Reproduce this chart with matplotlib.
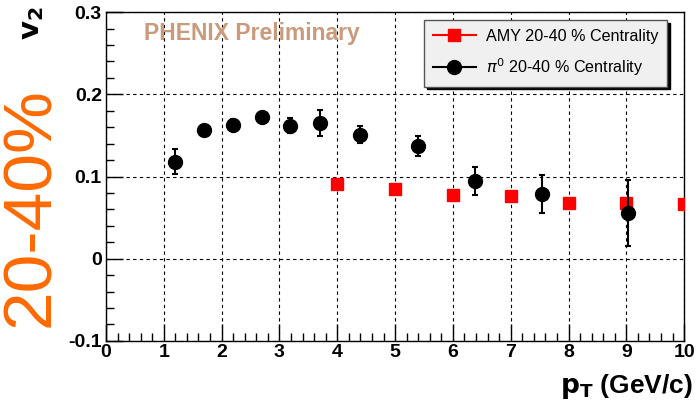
import matplotlib.pyplot as plt
from matplotlib.lines import Line2D
from matplotlib.ticker import MultipleLocator

# pi0 v2, 20-40 % centrality
pi0_pt = [1.19, 1.70, 2.20, 2.70, 3.18, 3.70, 4.39, 5.40, 6.38, 7.54, 9.03]
pi0_v2 = [0.118, 0.157, 0.163, 0.172, 0.162, 0.165, 0.151, 0.137, 0.095, 0.079, 0.056]
pi0_err = [0.015, 0.006, 0.007, 0.007, 0.009, 0.016, 0.010, 0.012, 0.017, 0.023, 0.040]

# AMY calculation
amy_pt = [4, 5, 6, 7, 8, 9, 10]
amy_v2 = [0.091, 0.085, 0.077, 0.076, 0.068, 0.068, 0.066]

plt.rcParams['font.family'] = ['Liberation Sans', 'DejaVu Sans']

fig = plt.figure(figsize=(7, 4.03), dpi=100)
ax = fig.add_axes([0.1514, 0.154, 0.826, 0.816])

ax.plot(amy_pt, amy_v2, 's', color='red', markersize=9, zorder=3)
ax.errorbar(pi0_pt, pi0_v2, yerr=pi0_err, fmt='o', color='black',
            markersize=10, elinewidth=1.5, capsize=2, capthick=1.5, zorder=4)

ax.set_xlim(0, 10)
ax.set_ylim(-0.1, 0.3)
ax.xaxis.set_major_locator(MultipleLocator(1))
ax.xaxis.set_minor_locator(MultipleLocator(0.2))
ax.yaxis.set_minor_locator(MultipleLocator(0.02))
ax.set_yticks([-0.1, 0, 0.1, 0.2, 0.3])
ax.set_yticklabels(['-0.1', '0', '0.1', '0.2', '0.3'])
ax.grid(True, which='major', color='black', linestyle=(0, (3, 3)), linewidth=0.8)
ax.tick_params(which='both', direction='in', top=False, right=False)
ax.tick_params(which='major', length=12, width=1, labelsize=14)
ax.tick_params(axis='x', which='major', pad=2)
ax.tick_params(axis='y', which='major', pad=3)
ax.tick_params(which='minor', length=6, width=1)
for lab in ax.get_xticklabels() + ax.get_yticklabels():
    lab.set_fontweight('bold')
for s in ax.spines.values():
    s.set_linewidth(1)

fig.text(0.045, 0.985, r'$\mathbf{v_2}$', rotation=90, fontsize=21,
         ha='center', va='top')
fig.text(0.99, 0.005, r'$\mathbf{p_T}$ (GeV/c)', fontsize=19,
         fontweight='bold', ha='right', va='bottom')
ax.text(0.065, 0.935, 'PHENIX Preliminary', transform=ax.transAxes,
        color='#c99a7c', fontsize=16.5, fontweight='bold', va='center')
fig.text(0.045, 0.487, '20-40%', rotation=90, color='#ff6a00', fontsize=50,
         ha='center', va='center')

handles = [
    Line2D([], [], color='red', marker='s', markersize=9, linewidth=1.5),
    Line2D([], [], color='black', marker='o', markersize=10, linewidth=1.5),
]
labels = ['AMY 20-40 % Centrality', r'$\pi^0$ 20-40 % Centrality']
leg = ax.legend(handles, labels, loc='upper right',
                bbox_to_anchor=(0.9706, 0.9757), borderaxespad=0, fontsize=11.6,
                frameon=True, fancybox=False, shadow={'color': 'black', 'alpha': 1},
                handlelength=2.7, borderpad=0.55, labelspacing=0.75,
                handletextpad=0.6)
leg.get_frame().set_facecolor('#f0f0f0')
leg.get_frame().set_edgecolor('#555555')

fig.savefig('out.png', dpi=100)
